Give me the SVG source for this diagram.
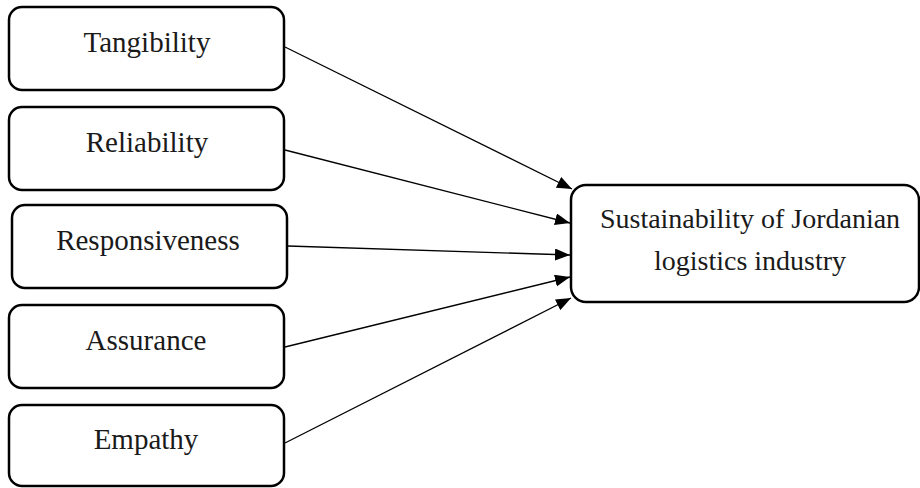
<svg xmlns="http://www.w3.org/2000/svg" width="920" height="488" viewBox="0 0 920 488">
<style>
.box{fill:#fff;stroke:#000;stroke-width:2.5}
.lbl{font-family:"Liberation Serif","DejaVu Serif",serif;font-size:29px;fill:#1a1a1a;text-anchor:middle}
.lbl2{font-family:"Liberation Serif","DejaVu Serif",serif;font-size:28px;fill:#1a1a1a;text-anchor:middle}
.con{stroke:#000;stroke-width:1.3;fill:none;marker-end:url(#ah)}
</style>
<defs>
<marker id="ah" markerUnits="userSpaceOnUse" markerWidth="16" markerHeight="12" refX="15" refY="6" orient="auto">
<path d="M0,0 L15,6 L0,12 Z" fill="#000"/>
</marker>
</defs>
<rect width="920" height="488" fill="#fff"/>
<g id="connectors">
<line class="con" x1="285" y1="47" x2="572" y2="189"/>
<line class="con" x1="285" y1="150" x2="570" y2="223"/>
<line class="con" x1="288" y1="246" x2="570" y2="255"/>
<line class="con" x1="285" y1="347" x2="570" y2="277"/>
<line class="con" x1="285" y1="443" x2="571" y2="298"/>
</g>
<g id="tangibility">
<rect class="box" x="9" y="7" width="275" height="83" rx="13"/>
<text class="lbl" x="147" y="52">Tangibility</text>
</g>
<g id="reliability">
<rect class="box" x="9" y="107" width="275" height="83" rx="13"/>
<text class="lbl" x="147" y="152">Reliability</text>
</g>
<g id="responsiveness">
<rect class="box" x="12" y="205" width="275" height="83" rx="13"/>
<text class="lbl" x="148" y="250">Responsiveness</text>
</g>
<g id="assurance">
<rect class="box" x="9" y="305" width="275" height="83" rx="13"/>
<text class="lbl" x="146" y="350">Assurance</text>
</g>
<g id="empathy">
<rect class="box" x="9" y="405" width="275" height="81" rx="13"/>
<text class="lbl" x="146" y="449">Empathy</text>
</g>
<g id="sustainability">
<rect class="box" x="571" y="185" width="348" height="117" rx="15"/>
<text class="lbl2" x="750" y="228">Sustainability of Jordanian</text>
<text class="lbl2" x="750" y="270">logistics industry</text>
</g>
</svg>
